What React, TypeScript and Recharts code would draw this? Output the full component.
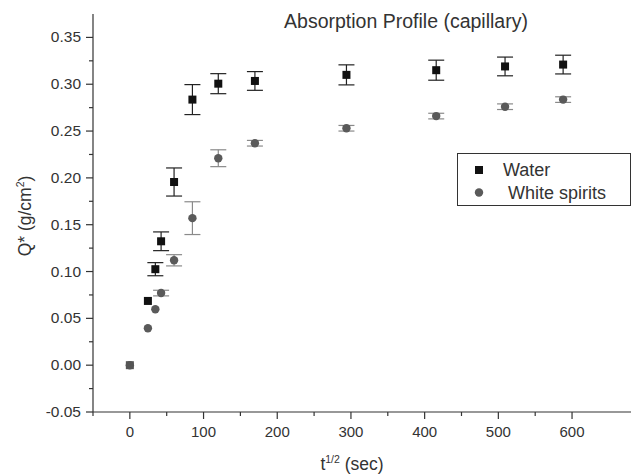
import React from 'react';
import { ScatterChart, Scatter, XAxis, YAxis, ErrorBar, Legend, Customized } from 'recharts';

// t^1/2 (sec)
const tHalf = [0, 24.5, 34.6, 42.4, 60, 84.9, 120, 169.7, 293.9, 415.7, 509.1, 587.9];
// Water
const waterQ = [0, 0.0686, 0.1025, 0.1323, 0.1956, 0.2836, 0.3006, 0.3035, 0.31, 0.315, 0.319, 0.321];
const waterErr = [0, 0, 0.007, 0.01, 0.015, 0.016, 0.0107, 0.01, 0.0107, 0.0107, 0.01, 0.01];
// White spirits
const spiritsQ = [0, 0.0395, 0.0598, 0.077, 0.112, 0.157, 0.221, 0.237, 0.253, 0.266, 0.276, 0.2836];
const spiritsErr = [0, 0, 0, 0.003, 0.006, 0.0175, 0.009, 0.003, 0.003, 0.003, 0.003, 0.003];

const xTicks = [-50, 0, 50, 100, 150, 200, 250, 300, 350, 400, 450, 500, 550, 600];
const xMajor = [0, 100, 200, 300, 400, 500, 600];
const yTicks = [-0.05, -0.025, 0, 0.025, 0.05, 0.075, 0.1, 0.125, 0.15, 0.175, 0.2, 0.225, 0.25, 0.275, 0.3, 0.325, 0.35];
const yMajor = [-0.05, 0, 0.05, 0.1, 0.15, 0.2, 0.25, 0.3, 0.35];

const seriesNames = ['Water', 'White spirits'];
const chartTitle = 'Absorption Profile (capillary)';

const FONT = '"Liberation Sans", Arial, sans-serif';
const AXIS = '#333';

const waterData = tHalf.map((t, i) => ({ t, q: waterQ[i], err: waterErr[i] }));
const spiritsData = tHalf.map((t, i) => ({ t, q: spiritsQ[i], err: spiritsErr[i] }));

const XTick = (props: any) => {
  const { x, y, payload } = props;
  const v = payload.value;
  const major = xMajor.includes(v);
  return (
    <g>
      <line x1={x} x2={x} y1={y} y2={y + (major ? 7 : 4)} stroke={AXIS} strokeWidth={1.2} />
      {major && (
        <text x={x} y={y + 25} textAnchor="middle" fontFamily={FONT} fontSize={15} fill="#333">
          {v}
        </text>
      )}
    </g>
  );
};

const YTick = (props: any) => {
  const { x, y, payload } = props;
  const v = payload.value;
  const major = yMajor.some((m) => Math.abs(m - v) < 1e-9);
  return (
    <g>
      <line x1={x} x2={x - (major ? 7 : 4)} y1={y} y2={y} stroke={AXIS} strokeWidth={1.2} />
      {major && (
        <text x={x - 12} y={y + 5} textAnchor="end" fontFamily={FONT} fontSize={15.5} fill="#333">
          {v.toFixed(2)}
        </text>
      )}
    </g>
  );
};

const WaterShape = (props: any) => {
  const { cx, cy, payload } = props;
  const fill = payload && payload.t === 0 ? '#555' : '#111';
  return <rect x={cx - 4} y={cy - 4} width={8} height={8} fill={fill} />;
};

const SpiritsShape = (props: any) => {
  const { cx, cy } = props;
  return <circle cx={cx} cy={cy} r={4.2} fill="#5a5a5a" />;
};

const Titles = () => (
  <g fontFamily={FONT} fill="#333">
    <text x={406} y={28} textAnchor="middle" fontSize={19.5}>
      {chartTitle}
    </text>
    <text x={352} y={470} textAnchor="middle" fontSize={17.5}>
      t
      <tspan dy={-7} fontSize={10.5}>1/2</tspan>
      <tspan dy={7}> (sec)</tspan>
    </text>
    <text transform="rotate(-90)" x={-216} y={31} textAnchor="middle" fontSize={17.5}>
      Q* (g/cm
      <tspan dy={-7} fontSize={10.5}>2</tspan>
      <tspan dy={7}>)</tspan>
    </text>
  </g>
);

const LegendBox = () => (
  <div
    style={{
      width: 174,
      height: 53,
      border: '1.2px solid #333',
      boxSizing: 'border-box',
      background: '#fff',
    }}
  >
    <svg width={172} height={51} style={{ display: 'block' }}>
      <rect x={17} y={12} width={8} height={8} fill="#111" />
      <text x={45} y={22} fontFamily={FONT} fontSize={18} fill="#333">
        {seriesNames[0]}
      </text>
      <circle cx={21} cy={38.5} r={4.2} fill="#5a5a5a" />
      <text x={50} y={45} fontFamily={FONT} fontSize={18} fill="#333">
        {' ' + seriesNames[1]}
      </text>
    </svg>
  </div>
);

export default function App() {
  return (
    <div style={{ position: 'absolute', left: 0, top: 0, background: '#fff' }}>
      <ScatterChart width={631} height={476} margin={{ top: 14, right: 0, bottom: 0, left: 0 }}>
        <XAxis
          type="number"
          dataKey="t"
          domain={[-50, 680]}
          ticks={xTicks}
          interval={0}
          allowDataOverflow
          height={64}
          tickSize={0}
          tickMargin={0}
          tickLine={false}
          tick={<XTick />}
          axisLine={{ stroke: AXIS, strokeWidth: 1.2 }}
        />
        <YAxis
          type="number"
          dataKey="q"
          domain={[-0.05, 0.375]}
          ticks={yTicks}
          interval={0}
          allowDataOverflow
          width={93}
          tickSize={0}
          tickMargin={0}
          tickLine={false}
          tick={<YTick />}
          axisLine={{ stroke: AXIS, strokeWidth: 1.2 }}
        />
        <Scatter name={seriesNames[1]} data={spiritsData} shape={<SpiritsShape />} isAnimationActive={false}>
          <ErrorBar dataKey="err" direction="y" width={8} stroke="#8a8a8a" strokeWidth={1.2} />
        </Scatter>
        <Scatter name={seriesNames[0]} data={waterData} shape={<WaterShape />} isAnimationActive={false}>
          <ErrorBar dataKey="err" direction="y" width={8} stroke="#222" strokeWidth={1.2} />
        </Scatter>
        <Legend
          layout="vertical"
          align="center"
          verticalAlign="middle"
          wrapperStyle={{ left: 457, top: 153, width: 174, height: 53 }}
          content={<LegendBox />}
        />
        <Customized component={<Titles />} />
      </ScatterChart>
    </div>
  );
}
